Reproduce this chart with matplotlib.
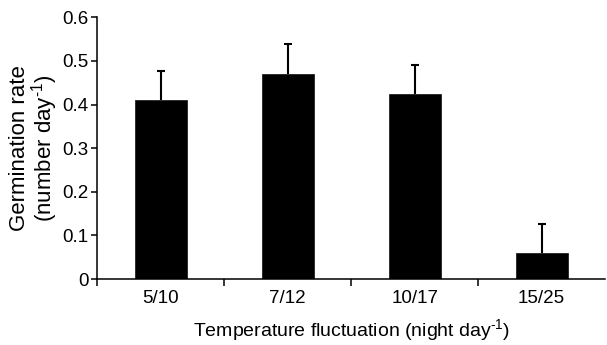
import numpy as np
import matplotlib
matplotlib.use("Agg")
import matplotlib.pyplot as plt

# data
categories = ["5/10", "7/12", "10/17", "15/25"]
rates = [0.41, 0.471, 0.423, 0.059]
errors = [0.066, 0.067, 0.067, 0.067]
yticks = [0, 0.1, 0.2, 0.3, 0.4, 0.5, 0.6]
ytick_labels = ["0", "0.1", "0.2", "0.3", "0.4", "0.5", "0.6"]

plt.rcParams["font.family"] = ["Liberation Sans", "DejaVu Sans"]
plt.rcParams["mathtext.fontset"] = "custom"
plt.rcParams["mathtext.rm"] = "Liberation Sans"

fig = plt.figure(figsize=(6.07, 3.45), dpi=100)
ax = fig.add_axes([0.16, 0.191, 0.837, 0.759])

x = np.arange(len(categories))
ax.bar(x, rates, width=0.41, color="black", edgecolor="#222222", linewidth=0.6, zorder=2)
_, caps, _ = ax.errorbar(x, rates, yerr=[np.zeros(len(errors)), errors], fmt="none",
                         ecolor="black", elinewidth=1.5, capsize=3.2, capthick=1.5, zorder=1)
# only the upper cap is wanted
for c in caps:
    if np.allclose(c.get_ydata(), rates):
        c.set_visible(False)

ax.set_xlim(-0.5, 3.5)
ax.set_ylim(0, 0.6)
ax.set_yticks(yticks)
ax.set_yticklabels(ytick_labels)

# category boundaries get the tick marks, labels sit at the centres
ax.set_xticks([-0.5, 0.5, 1.5, 2.5])
ax.set_xticklabels([])
ax.set_xticks(x, minor=True)
ax.set_xticklabels(categories, minor=True)
ax.tick_params(axis="x", which="minor", length=0, pad=8, labelsize=13.5)
ax.tick_params(axis="x", which="major", length=5, width=1.1, direction="out")
ax.tick_params(axis="y", length=4, width=1.1, direction="out", labelsize=13.5, pad=2)

for s in ["top", "right"]:
    ax.spines[s].set_visible(False)
for s in ["left", "bottom"]:
    ax.spines[s].set_linewidth(1.1)

ax.set_xlabel(r"Temperature fluctuation (night day$^{\text{-1}}$)", fontsize=14, labelpad=7)
ax.set_ylabel("Germination rate\n" + r"(number day$^{\text{-1}}$)", fontsize=16,
              labelpad=2, linespacing=0.95)

fig.savefig("out.png", dpi=100)
